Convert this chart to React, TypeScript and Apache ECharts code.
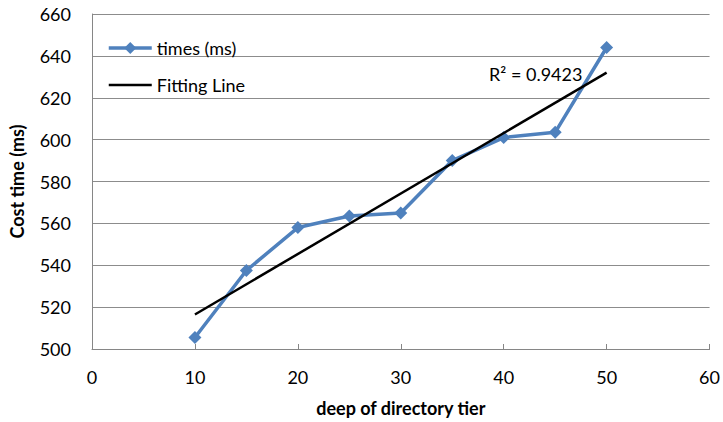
import React, { useEffect, useRef } from "react";
import * as echarts from "echarts";

const depths = [10, 15, 20, 25, 30, 35, 40, 45, 50];
const times = [505.5, 537.5, 558, 563.5, 565, 590, 601, 603.5, 644];
const fitX = [10, 50];
const fitY = [516.5, 632];
const r2Label = "R² = 0.9423";

export default function App() {
  const ref = useRef<HTMLDivElement>(null);
  useEffect(() => {
    const chart = echarts.init(ref.current!, null, { renderer: "svg" });
    const font = "Lato, 'Open Sans', sans-serif";
    const fs = 18;
    chart.setOption({
      animation: false,
      textStyle: { fontFamily: font },
      grid: { left: 86, right: 9, top: 14, bottom: 72, containLabel: false },
      legend: {
        orient: "vertical",
        left: 107,
        top: 39,
        padding: 0,
        itemWidth: 43,
        itemHeight: 15,
        itemGap: 19,
        lineStyle: { width: "inherit" },
        textStyle: { fontSize: fs, color: "#000", fontFamily: font },
        data: [
          { name: "times (ms)" },
          { name: "Fitting Line", itemStyle: { opacity: 0 } },
        ],
      },
      xAxis: {
        type: "value",
        min: 0,
        max: 60,
        interval: 10,
        name: "deep of directory tier",
        nameLocation: "middle",
        nameGap: 50,
        nameTextStyle: { fontSize: fs, fontWeight: "bold", color: "#000", fontFamily: font },
        axisLine: { lineStyle: { color: "#868686", width: 1 } },
        axisTick: { show: true, inside: true, length: 5, lineStyle: { color: "#868686" } },
        axisLabel: { fontSize: fs, color: "#000", margin: 19, fontFamily: font },
        splitLine: { show: false },
      },
      yAxis: {
        type: "value",
        min: 500,
        max: 660,
        interval: 20,
        name: "Cost time (ms)",
        nameLocation: "middle",
        nameGap: 66,
        nameTextStyle: { fontSize: fs, fontWeight: "bold", color: "#000", fontFamily: font },
        axisLine: { show: true, lineStyle: { color: "#868686", width: 1 } },
        axisTick: { show: false },
        axisLabel: { fontSize: fs, color: "#000", margin: 21, fontFamily: font },
        splitLine: { show: true, lineStyle: { color: "#8c8c8c", width: 1 } },
      },
      series: [
        {
          name: "times (ms)",
          type: "line",
          data: depths.map((d, i) => [d, times[i]]),
          symbol: "diamond",
          symbolSize: 13,
          lineStyle: { color: "#4F81BD", width: 3.5 },
          itemStyle: { color: "#4F81BD" },
          z: 2,
        },
        {
          name: "Fitting Line",
          type: "line",
          data: fitX.map((x, i) => [x, fitY[i]]),
          symbol: "none",
          lineStyle: { color: "#000", width: 2.5 },
          itemStyle: { color: "#000" },
          z: 3,
        },
      ],
      graphic: [
        {
          type: "text",
          x: 489,
          y: 74,
          style: { text: r2Label, fontSize: fs, fill: "#000", fontFamily: font, verticalAlign: "middle" },
        },
      ],
    });
    return () => chart.dispose();
  }, []);
  return <div ref={ref} style={{ width: 723, height: 422, position: "absolute", left: 0, top: 0 }} />;
}
